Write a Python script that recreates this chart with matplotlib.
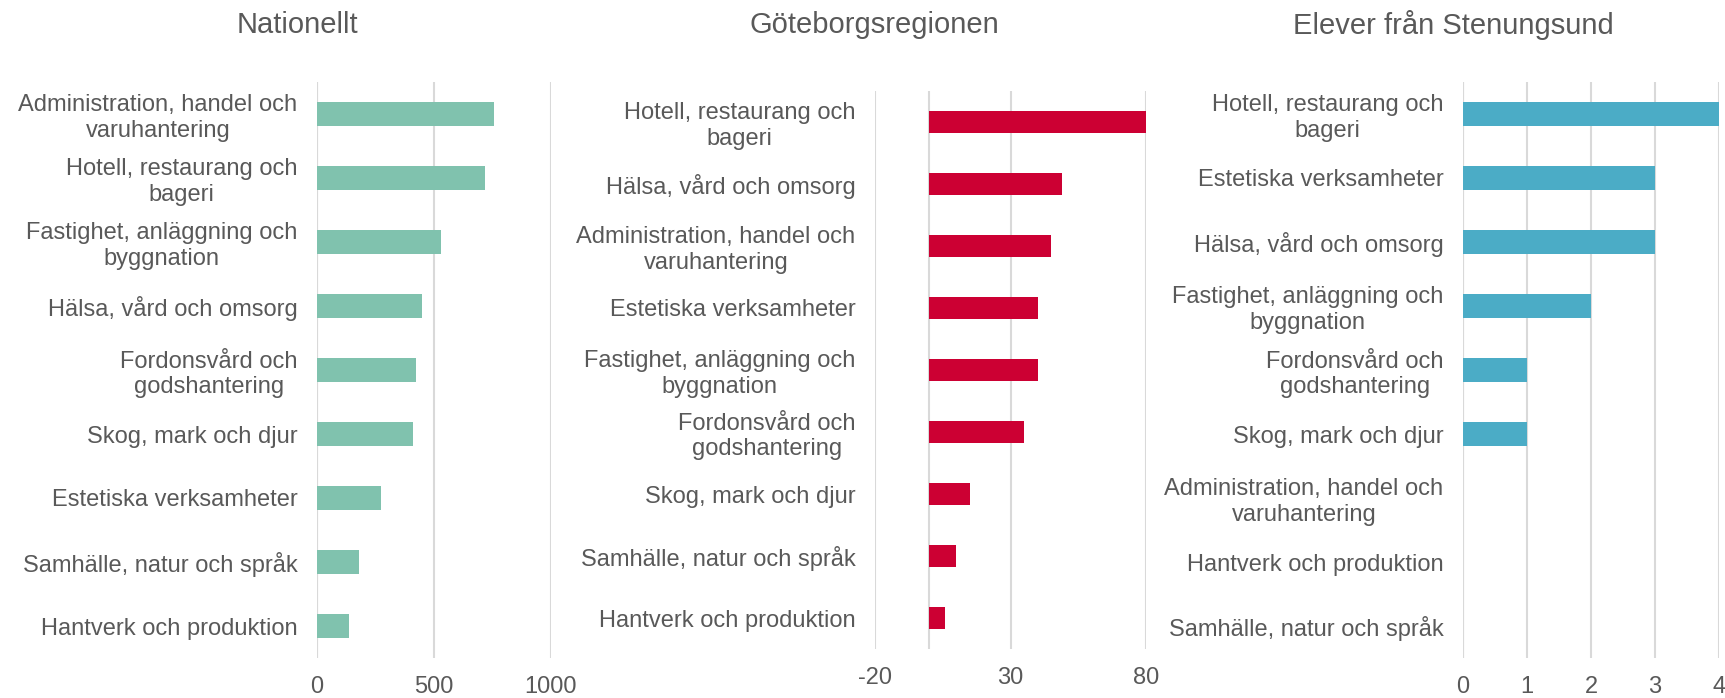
import matplotlib
matplotlib.use("Agg")
import matplotlib.pyplot as plt

plt.rcParams["font.family"] = ["Liberation Sans", "DejaVu Sans"]
plt.rcParams["axes.unicode_minus"] = False

# ── Data (top-to-bottom order as shown) ──
nat_labels = [
    "Administration, handel och\nvaruhantering",
    "Hotell, restaurang och\nbageri",
    "Fastighet, anläggning och\nbyggnation",
    "Hälsa, vård och omsorg",
    "Fordonsvård och\ngodshantering",
    "Skog, mark och djur",
    "Estetiska verksamheter",
    "Samhälle, natur och språk",
    "Hantverk och produktion",
]
nat_values = [755, 720, 530, 448, 424, 410, 273, 180, 138]

gbg_labels = [
    "Hotell, restaurang och\nbageri",
    "Hälsa, vård och omsorg",
    "Administration, handel och\nvaruhantering",
    "Estetiska verksamheter",
    "Fastighet, anläggning och\nbyggnation",
    "Fordonsvård och\ngodshantering",
    "Skog, mark och djur",
    "Samhälle, natur och språk",
    "Hantverk och produktion",
]
gbg_values = [80, 49, 45, 40, 40, 35, 15, 10, 6]

sten_labels = [
    "Hotell, restaurang och\nbageri",
    "Estetiska verksamheter",
    "Hälsa, vård och omsorg",
    "Fastighet, anläggning och\nbyggnation",
    "Fordonsvård och\ngodshantering",
    "Skog, mark och djur",
    "Administration, handel och\nvaruhantering",
    "Hantverk och produktion",
    "Samhälle, natur och språk",
]
sten_values = [4, 3, 3, 2, 1, 1, 0, 0, 0]

TEXT = "#595959"
GRID = "#d9d9d9"
W, H = 1725, 698

fig = plt.figure(figsize=(W / 100, H / 100), dpi=100)


def px_axes(left, right, top, bottom):
    return fig.add_axes([left / W, 1 - bottom / H, (right - left) / W, (bottom - top) / H])


panels = [
    # title, labels, values, color, xlim, ticks, box(left, right, top, bottom), title x
    ("Nationellt", nat_labels, nat_values, "#80c2ae", (0, 1000), [0, 500, 1000],
     (317, 551, 82, 658), 297),
    ("Göteborgsregionen", gbg_labels, gbg_values, "#cc0033", (-20, 80), [-20, 30, 80],
     (875, 1146, 91, 649), 874),
    ("Elever från Stenungsund", sten_labels, sten_values, "#4bacc6", (0, 4), [0, 1, 2, 3, 4],
     (1463, 1719, 82, 658), 1453),
]

for title, labels, values, color, xlim, ticks, box, tx in panels:
    ax = px_axes(*box)
    y = list(range(len(labels)))
    ax.barh(y, values, height=0.36, color=color, zorder=3)
    ax.set_xlim(*xlim)
    ax.set_ylim(len(labels) - 0.5, -0.5)
    ax.set_xticks(ticks)
    ax.set_yticks(y)
    ax.set_yticklabels(labels, fontsize=17, color=TEXT, multialignment="center")
    ax.tick_params(axis="x", labelsize=17, labelcolor=TEXT, length=0, pad=13)
    ax.tick_params(axis="y", length=0, pad=14)
    ax.grid(axis="x", color=GRID, linewidth=1.5, zorder=0)
    ax.axvline(0, color=GRID, linewidth=1.5, zorder=1)
    for sp in ax.spines.values():
        sp.set_visible(False)
    fig.text(tx / W, 1 - 25 / H, title, ha="center", va="center", fontsize=21, color=TEXT)

fig.savefig("out.png", dpi=100)
